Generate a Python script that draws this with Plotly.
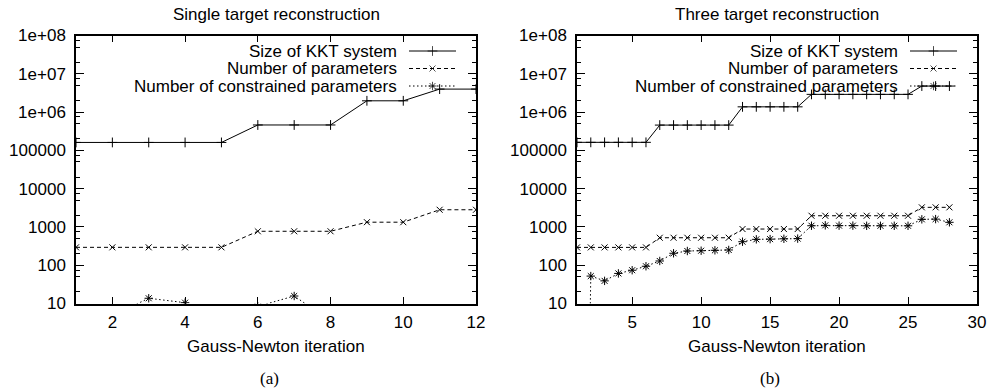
import plotly.graph_objects as go

W, H = 990, 391

# ---------------- data ----------------
iter_a = [1, 2, 3, 4, 5, 6, 7, 8, 9, 10, 11, 12]
kkt_a = [161000, 161000, 161000, 161000, 161000, 460000, 460000, 460000,
         1970000, 1970000, 3980000, 3980000]
params_a = [293, 293, 293, 293, 293, 770, 770, 770, 1330, 1330, 2810, 2810]
constr_a = [3, 4.8, 13.7, 10.5, 2, 8.4, 15.7, 3.5, 3, 2, 3, 4]

iter_b = list(range(1, 29))
kkt_b = [162000, 162000, 162000, 162000, 162000, 162000,
         457000, 457000, 457000, 457000, 457000, 457000,
         1370000, 1370000, 1370000, 1370000, 1370000,
         2900000, 2900000, 2900000, 2900000, 2900000, 2900000, 2900000, 2900000,
         4780000, 4780000, 4780000]
params_b = [292, 292, 292, 292, 292, 292,
            522, 522, 522, 522, 522, 522,
            881, 881, 881, 881, 881,
            1960, 1960, 1960, 1960, 1960, 1960, 1960, 1960,
            3250, 3250, 3250]
constr_b = [1e-20, 52, 39, 61, 74, 94, 129, 205, 235, 239, 245, 250,
            411, 474, 480, 490, 495,
            1074, 1100, 1080, 1080, 1070, 1070, 1070, 1070,
            1578, 1600, 1320]

series_names = ["Size of KKT system", "Number of parameters",
                "Number of constrained parameters"]
titles = ["Single target reconstruction", "Three target reconstruction"]
xlabel = "Gauss-Newton iteration"
panel_labels = ["(a)", "(b)"]
xticks_a = [2, 4, 6, 8, 10, 12]
xticks_b = [5, 10, 15, 20, 25, 30]
yticks = [10, 100, 1000, 10000, 100000, 1e6, 1e7, 1e8]
yticklabels = ["10", "100", "1000", "10000", "100000", "1e+06", "1e+07", "1e+08"]
minor_vals = []
for d in [10, 100, 1000, 10000, 100000, 1e6, 1e7]:
    for m in [2, 5, 7.5]:
        minor_vals.append(d * m)

# ---------------- styles ----------------
FONT = "Liberation Sans"
styles = [
    dict(dash="solid", symbol="cross-thin-open", size=7),
    dict(dash="4px,3px", symbol="x-thin-open", size=6),
    dict(dash="1.5px,2.5px", symbol="asterisk-open", size=7),
]

# pixel geometry of the two panels
panels = [
    dict(x0=76, x1=476),
    dict(x0=577, x1=977),
]
PY0, PY1 = 35.5, 303.5  # top, bottom


def px(x):
    return x / W


def py(y):
    return 1 - y / H


fig = go.Figure()

datasets = [
    (iter_a, [kkt_a, params_a, constr_a]),
    (iter_b, [kkt_b, params_b, constr_b]),
]
for i, (xs, ys_list) in enumerate(datasets):
    xa = "x" if i == 0 else "x2"
    ya = "y" if i == 0 else "y2"
    for j, ys in enumerate(ys_list):
        st = styles[j]
        fig.add_trace(go.Scatter(
            x=xs, y=ys, xaxis=xa, yaxis=ya, mode="lines+markers",
            name=series_names[j], showlegend=False,
            line=dict(color="black", width=1, dash=st["dash"]),
            marker=dict(symbol=st["symbol"], size=st["size"], color="black",
                        line=dict(color="black", width=1)),
            cliponaxis=True,
        ))

common_x = dict(
    showline=True, linecolor="black", linewidth=1.5, mirror="ticks",
    ticks="inside", ticklen=7, tickwidth=1, tickcolor="black",
    showgrid=False, zeroline=False, automargin=False,
    tickfont=dict(family=FONT, size=17, color="black"),
    ticklabelstandoff=2,
)
common_y = dict(
    type="log", range=[1, 8],
    domain=[py(PY1), py(PY0)],
    showline=True, linecolor="black", linewidth=1.5, mirror="ticks",
    ticks="inside", ticklen=8, tickwidth=1, tickcolor="black",
    tickmode="array", tickvals=yticks, ticktext=yticklabels,
    minor=dict(tickmode="array", tickvals=minor_vals, ticks="inside",
               ticklen=4, tickcolor="black", tickwidth=1, showgrid=False),
    showgrid=False, zeroline=False, automargin=False,
    tickfont=dict(family=FONT, size=17, color="black"),
    ticklabelstandoff=5,
)

fig.update_layout(
    width=W, height=H,
    margin=dict(l=0, r=0, t=0, b=0, pad=0, autoexpand=False),
    paper_bgcolor="white", plot_bgcolor="rgba(0,0,0,0)",
    showlegend=False,
    xaxis=dict(domain=[px(panels[0]["x0"]), px(panels[0]["x1"])], range=[1, 12],
               tickmode="array", tickvals=xticks_a, anchor="y", **common_x),
    yaxis=dict(anchor="x", **common_y),
    xaxis2=dict(domain=[px(panels[1]["x0"]), px(panels[1]["x1"])], range=[1, 30],
                tickmode="array", tickvals=xticks_b, anchor="y2", **common_x),
    yaxis2=dict(anchor="x2", **common_y),
    xaxis3=dict(domain=[0, 1], range=[0, 1], visible=False, fixedrange=True,
                anchor="y3", automargin=False),
    yaxis3=dict(domain=[0, 1], range=[0, 1], visible=False, fixedrange=True,
                anchor="x3", automargin=False),
)

annotations = []
legend_rows = [51, 68.5, 86]
for i, p in enumerate(panels):
    cx = (p["x0"] + p["x1"]) / 2
    annotations.append(dict(text=titles[i], x=px(cx), y=py(15), xref="paper",
                            yref="paper", showarrow=False, xanchor="center",
                            yanchor="middle",
                            font=dict(family=FONT, size=17, color="black")))
    annotations.append(dict(text=xlabel, x=px(cx), y=py(346), xref="paper",
                            yref="paper", showarrow=False, xanchor="center",
                            yanchor="middle",
                            font=dict(family=FONT, size=17, color="black")))
    annotations.append(dict(text=panel_labels[i], x=px(cx - 7), y=py(378),
                            xref="paper", yref="paper", showarrow=False,
                            xanchor="center", yanchor="middle",
                            font=dict(family="Liberation Serif", size=17,
                                      color="black")))
    # legend
    tx = p["x1"] - 78
    sx0, sx1 = p["x1"] - 67, p["x1"] - 20
    for j, name in enumerate(series_names):
        ry = legend_rows[j]
        annotations.append(dict(text=name, x=px(tx), y=py(ry), xref="paper",
                                yref="paper", showarrow=False, xanchor="right",
                                yanchor="middle", borderpad=0,
                                font=dict(family=FONT, size=17, color="black")))
        st = styles[j]
        fig.add_trace(go.Scatter(
            x=[px(sx0), px((sx0 + sx1) / 2), px(sx1)], y=[py(ry)] * 3,
            xaxis="x3", yaxis="y3", mode="lines+markers", showlegend=False,
            hoverinfo="skip",
            line=dict(color="black", width=1, dash=st["dash"]),
            marker=dict(symbol=st["symbol"], size=[0, st["size"], 0],
                        color="black", line=dict(color="black", width=1)),
        ))

fig.update_layout(annotations=annotations)
fig.write_html(
    "out.html",
    config={"displayModeBar": False},
    post_script="document.body.style.margin='0';"
                "document.body.style.overflow='hidden';",
)
